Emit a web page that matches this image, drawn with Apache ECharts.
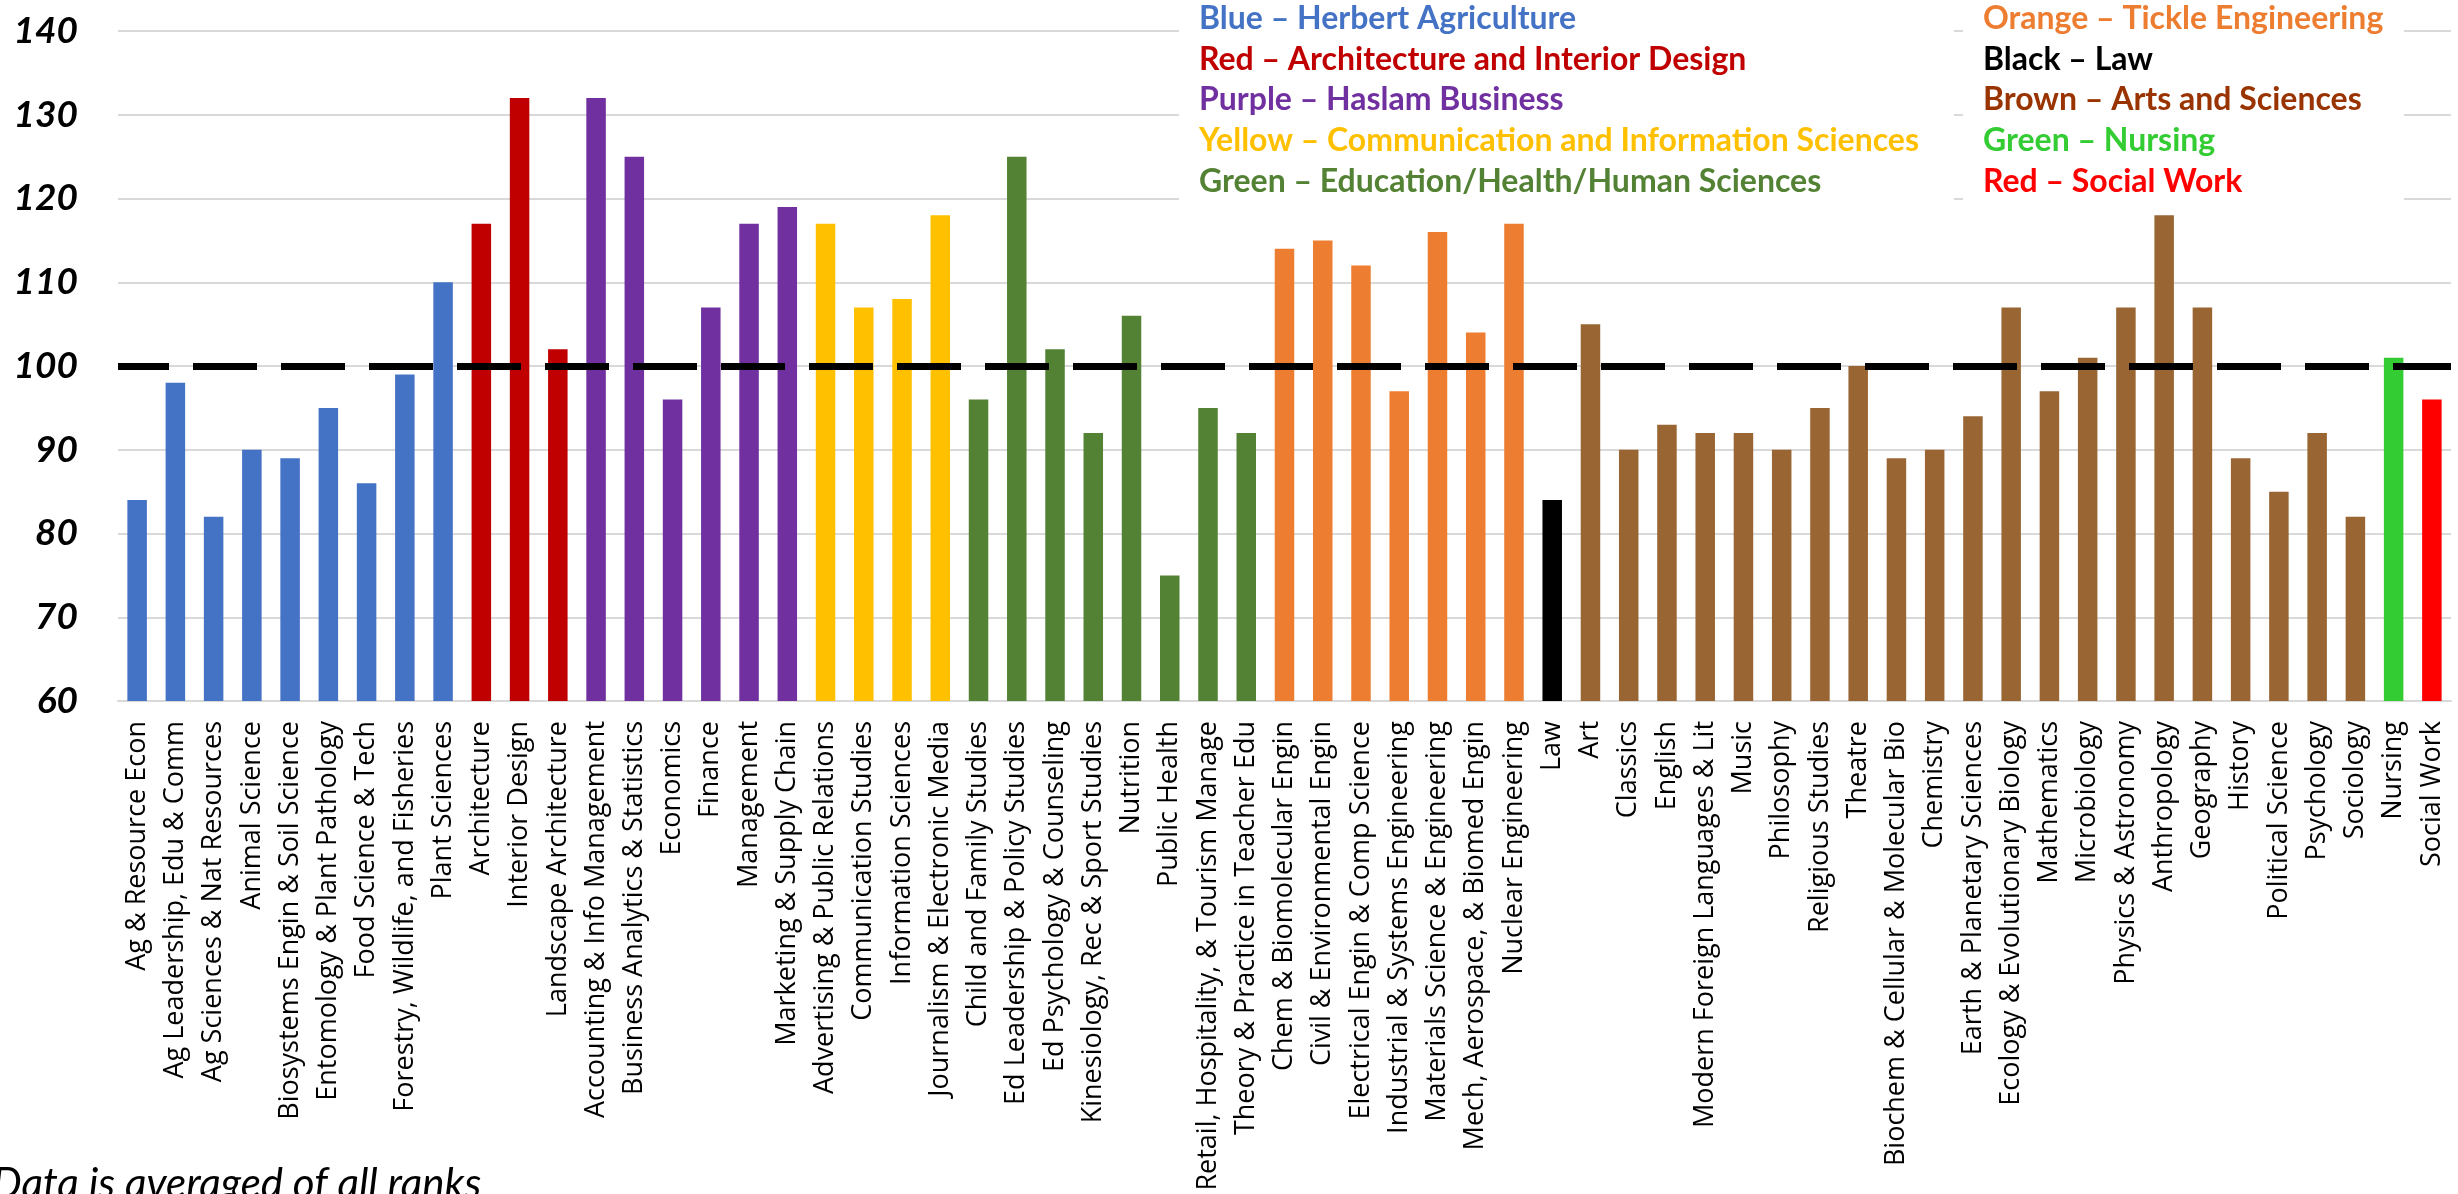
<!DOCTYPE html>
<html>
<head>
<meta charset="utf-8">
<script src="https://cdn.jsdelivr.net/npm/echarts@6/dist/echarts.min.js"></script>
<style>
html,body{margin:0;padding:0;background:#ffffff;}
#chart{width:2458px;height:1194px;}
</style>
</head>
<body>
<div id="chart"></div>
<script>
const categories = [
  'Ag & Resource Econ','Ag Leadership, Edu & Comm','Ag Sciences & Nat Resources','Animal Science',
  'Biosystems Engin & Soil Science','Entomology & Plant Pathology','Food Science & Tech',
  'Forestry, Wildlife, and Fisheries','Plant Sciences',
  'Architecture','Interior Design','Landscape Architecture',
  'Accounting & Info Management','Business Analytics & Statistics','Economics','Finance',
  'Management','Marketing & Supply Chain',
  'Advertising & Public Relations','Communication Studies','Information Sciences',
  'Journalism & Electronic Media',
  'Child and Family Studies','Ed Leadership & Policy Studies','Ed Psychology & Counseling',
  'Kinesiology, Rec & Sport Studies','Nutrition','Public Health',
  'Retail, Hospitality, & Tourism Manage','Theory & Practice in Teacher Edu',
  'Chem & Biomolecular Engin','Civil & Environmental Engin','Electrical Engin & Comp Science',
  'Industrial & Systems Engineering','Materials Science & Engineering',
  'Mech, Aerospace, & Biomed Engin','Nuclear Engineering',
  'Law',
  'Art','Classics','English','Modern Foreign Languages & Lit','Music','Philosophy',
  'Religious Studies','Theatre','Biochem & Cellular & Molecular Bio','Chemistry',
  'Earth & Planetary Sciences','Ecology & Evolutionary Biology','Mathematics','Microbiology',
  'Physics & Astronomy','Anthropology','Geography','History','Political Science','Psychology',
  'Sociology',
  'Nursing',
  'Social Work'
];

const values = [
  84, 98, 82, 90, 89, 95, 86, 99, 110,
  117, 132, 102,
  132, 125, 96, 107, 117, 119,
  117, 107, 108, 118,
  96, 125, 102, 92, 106, 75, 95, 92,
  114, 115, 112, 97, 116, 104, 117,
  84,
  105, 90, 93, 92, 92, 90, 95, 100, 89, 90, 94, 107, 97, 101, 107, 118, 107, 89, 85, 92, 82,
  101,
  96
];

// college index of each category (0..9)
const collegeOfCategory = [
  0,0,0,0,0,0,0,0,0,
  1,1,1,
  2,2,2,2,2,2,
  3,3,3,3,
  4,4,4,4,4,4,4,4,
  5,5,5,5,5,5,5,
  6,
  7,7,7,7,7,7,7,7,7,7,7,7,7,7,7,7,7,7,7,7,7,
  8,
  9
];

const collegeColors = ['#4472C4','#C00000','#7030A0','#FFC000','#548235','#ED7D31','#000000','#996633','#33CC33','#FF0000'];

const legendLeftTexts = [
  'Blue – Herbert Agriculture',
  'Red – Architecture and Interior Design',
  'Purple – Haslam Business',
  'Yellow – Communication and Information Sciences',
  'Green – Education/Health/Human Sciences'
];
const legendLeftColors = ['#4472C4','#C00000','#7030A0','#FFC000','#548235'];
const legendRightTexts = [
  'Orange – Tickle Engineering',
  'Black – Law',
  'Brown – Arts and Sciences',
  'Green – Nursing',
  'Red – Social Work'
];
const legendRightColors = ['#ED7D31','#000000','#993300','#33CC33','#FF0000'];

const yMin = 60, yMax = 140, yStep = 10;
const referenceValue = 100;
const noteText = 'Data is averaged of all ranks';

const barData = values.map((v, i) => ({
  value: v,
  itemStyle: { color: collegeColors[collegeOfCategory[i]] }
}));

const legendRowY = [19, 60, 100, 141, 182];
const graphics = [
  { type: 'rect', z: 50, shape: { x: 1179, y: 0, width: 775, height: 208 }, style: { fill: '#ffffff' } },
  { type: 'rect', z: 50, shape: { x: 1963, y: 0, width: 441, height: 208 }, style: { fill: '#ffffff' } }
];
legendLeftTexts.forEach((t, i) => {
  graphics.push({
    type: 'text', z: 60, x: 1199, y: legendRowY[i],
    style: { text: t, fill: legendLeftColors[i], fontFamily: 'Lato', fontWeight: 'bold', fontSize: 32,
             textAlign: 'left', textVerticalAlign: 'middle' }
  });
});
legendRightTexts.forEach((t, i) => {
  graphics.push({
    type: 'text', z: 60, x: 1983, y: legendRowY[i],
    style: { text: t, fill: legendRightColors[i], fontFamily: 'Lato', fontWeight: 'bold', fontSize: 32,
             textAlign: 'left', textVerticalAlign: 'middle' }
  });
});
graphics.push({
  type: 'text', z: 60, x: -8, y: 1163,
  style: { text: noteText, fill: '#000000', fontFamily: 'Lato', fontStyle: 'italic', fontSize: 42,
           textAlign: 'left', textVerticalAlign: 'top' }
});

const chart = echarts.init(document.getElementById('chart'), null, { renderer: 'canvas' });
chart.setOption({
  animation: false,
  backgroundColor: '#ffffff',
  grid: { left: 118, right: 7, top: 31, bottom: 493, containLabel: false, outerBoundsMode: 'none' },
  xAxis: {
    type: 'category',
    data: categories,
    axisLine: { show: true, lineStyle: { color: '#d9d9d9', width: 2 } },
    axisTick: { show: false },
    axisLabel: {
      interval: 0, rotate: 90, margin: 20,
      fontFamily: 'Open Sans', fontSize: 27, color: '#000000'
    },
    splitLine: { show: false }
  },
  yAxis: {
    type: 'value',
    min: yMin, max: yMax, interval: yStep,
    axisLine: { show: false },
    axisTick: { show: false },
    axisLabel: {
      margin: 40, fontFamily: 'Lato', fontSize: 37, fontWeight: 'bold', fontStyle: 'italic', color: '#000000'
    },
    splitLine: { show: true, lineStyle: { color: '#d9d9d9', width: 2 } }
  },
  series: [{
    type: 'bar',
    data: barData,
    barWidth: '51%',
    markLine: {
      silent: true,
      symbol: ['none', 'none'],
      label: { show: false },
      lineStyle: { color: '#000000', width: 7, type: [64, 24], dashOffset: 13 },
      emphasis: { disabled: true },
      data: [{ yAxis: referenceValue }]
    }
  }],
  graphic: graphics
});
</script>
</body>
</html>
